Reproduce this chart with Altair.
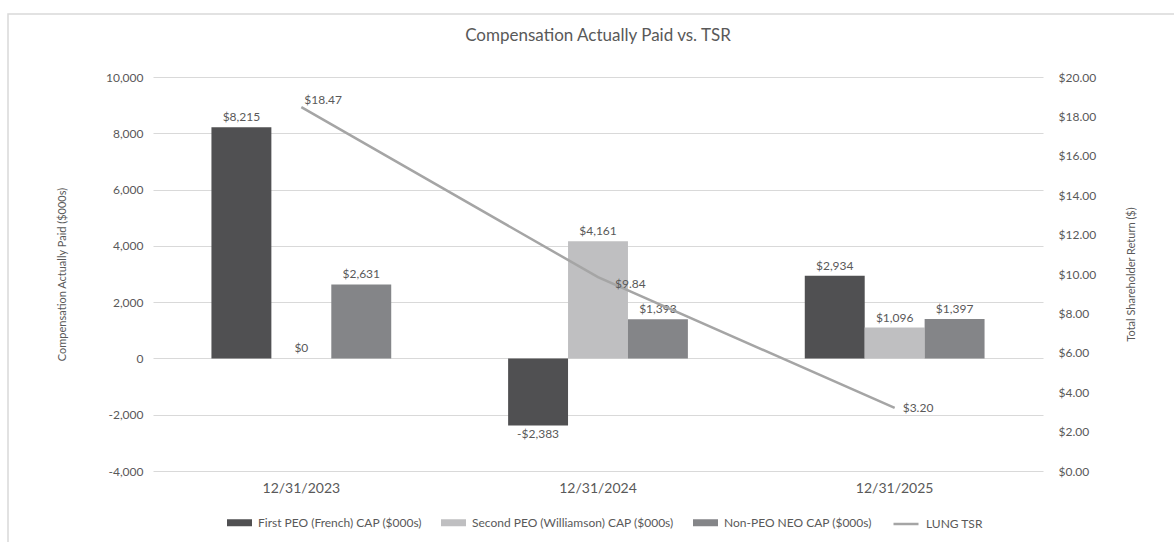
import altair as alt
import pandas as pd

# ---------------- data ----------------
dates = ["12/31/2023", "12/31/2024", "12/31/2025"]
series_names = [
    "First PEO (French) CAP ($000s)",
    "Second PEO (Williamson) CAP ($000s)",
    "Non-PEO NEO CAP ($000s)",
]
first_peo = [8215, -2383, 2934]
second_peo = [0, 4161, 1096]
non_peo = [2631, 1393, 1397]
tsr_name = "LUNG TSR"
tsr = [18.47, 9.84, 3.20]
left_ticks = [-4000, -2000, 0, 2000, 4000, 6000, 8000, 10000]
right_ticks = [0, 2, 4, 6, 8, 10, 12, 14, 16, 18, 20]

# ---------------- styles ----------------
FONT = "Lato"
TXT = "#595959"
GRID = "#D9D9D9"
bar_colors = ["#505052", "#BFBFC1", "#848588"]
line_color = "#A5A5A5"

rows = []
for i, d in enumerate(dates):
    for s, vals in zip(series_names, [first_peo, second_peo, non_peo]):
        rows.append({"date": d, "series": s, "value": vals[i]})
bars_df = pd.DataFrame(rows)
line_df = pd.DataFrame({"date": dates, "series": [tsr_name] * len(dates), "tsr": tsr})

x_enc = alt.X(
    "date:N",
    sort=dates,
    scale=alt.Scale(paddingInner=0.394, paddingOuter=0.197),
    axis=alt.Axis(
        title=None, labelAngle=0, domain=False, ticks=False, labelFontSize=14,
        labelColor=TXT, labelFont=FONT, labelPadding=10, grid=False,
    ),
)
xoff_enc = alt.XOffset("series:N", sort=series_names,
                       scale=alt.Scale(paddingInner=0, paddingOuter=0))

left_axis = alt.Axis(
    values=left_ticks,
    labelExpr="(datum.value < 0 ? '-' : '') + format(abs(datum.value), ',.0f')",
    title="Compensation Actually Paid ($000s)",
    titleFont=FONT, titleFontSize=11, titleFontWeight="normal", titleColor=TXT,
    titleAngle=-90, titleX=-91, titleY=197, titleAlign="center", titleBaseline="middle",
    labelFont=FONT, labelFontSize=12, labelColor=TXT, labelPadding=10,
    labelOverlap=False,
    grid=True, gridColor=GRID, gridWidth=1, domain=False, ticks=False,
)
left_scale = alt.Scale(domain=[-4000, 10000], nice=False)

right_axis = alt.Axis(
    orient="right", values=right_ticks, format="$.2f",
    title="Total Shareholder Return ($)",
    titleFont=FONT, titleFontSize=11, titleFontWeight="normal", titleColor=TXT,
    titleAngle=-90, titleX=88, titleY=197, titleAlign="center", titleBaseline="middle",
    labelFont=FONT, labelFontSize=12, labelColor=TXT, labelPadding=15,
    labelOverlap=False,
    grid=False, domain=False, ticks=False,
)
right_scale = alt.Scale(domain=[0, 20], nice=False)

frame = alt.Chart(alt.Data(values=[{}])).mark_rect(
    filled=False, stroke=GRID, strokeWidth=1.5
).encode(
    x=alt.value(-145), x2=alt.value(1030), y=alt.value(-63), y2=alt.value(480)
)

bars = alt.Chart(bars_df).mark_bar().encode(
    x=x_enc,
    xOffset=xoff_enc,
    y=alt.Y("value:Q", scale=left_scale, axis=left_axis),
    color=alt.Color(
        "series:N",
        sort=series_names,
        scale=alt.Scale(domain=series_names, range=bar_colors),
        legend=alt.Legend(
            title=None, orient="none", legendX=74, legendY=433, direction="horizontal",
            symbolType="M-1,-0.28L1,-0.28L1,0.28L-1,0.28Z", symbolSize=625,
            symbolStrokeWidth=0, labelFont=FONT, labelFontSize=12, labelColor=TXT,
            columnPadding=19, labelOffset=6, labelLimit=400,
        ),
    ),
)

bar_label = "(datum.value < 0 ? '-' : '') + '$' + format(abs(datum.value), ',.0f')"

pos_text = alt.Chart(bars_df).transform_filter("datum.value >= 0").transform_calculate(
    label=bar_label
).mark_text(baseline="bottom", dy=-3, font=FONT, fontSize=12, color=TXT).encode(
    x=x_enc, xOffset=xoff_enc,
    y=alt.Y("value:Q", scale=left_scale, axis=left_axis), text="label:N",
)
neg_text = alt.Chart(bars_df).transform_filter("datum.value < 0").transform_calculate(
    label=bar_label
).mark_text(baseline="top", dy=4, font=FONT, fontSize=12, color=TXT).encode(
    x=x_enc, xOffset=xoff_enc,
    y=alt.Y("value:Q", scale=left_scale, axis=left_axis), text="label:N",
)

left = alt.layer(bars, pos_text, neg_text)

line = alt.Chart(line_df).mark_line(strokeWidth=2.5).encode(
    x=x_enc,
    y=alt.Y("tsr:Q", scale=right_scale, axis=right_axis),
    stroke=alt.Stroke(
        "series:N",
        scale=alt.Scale(domain=[tsr_name], range=[line_color]),
        legend=alt.Legend(
            title=None, orient="none", legendX=739, legendY=433, direction="horizontal",
            symbolType="stroke", symbolSize=625, symbolStrokeWidth=2.5,
            labelFont=FONT, labelFontSize=12, labelColor=TXT, labelOffset=6,
        ),
    ),
)


def tsr_text(i, dx, dy):
    return alt.Chart(line_df).transform_filter(
        alt.datum.date == dates[i]
    ).transform_calculate(
        label="'$' + format(datum.tsr, '.2f')"
    ).mark_text(
        align="left", baseline="middle", dx=dx, dy=dy, font=FONT, fontSize=12, color=TXT
    ).encode(
        x=x_enc, y=alt.Y("tsr:Q", scale=right_scale, axis=right_axis), text="label:N"
    )


right = alt.layer(line, tsr_text(0, 3, -7), tsr_text(1, 17, 7), tsr_text(2, 8, 0))

chart = alt.layer(frame, left, right).resolve_scale(y="independent").properties(
    width=890,
    height=394,
    padding={"left": 153, "top": 77, "right": 131, "bottom": 71},
    autosize=alt.AutoSizeParams(type="none"),
    title=alt.Title(
        "Compensation Actually Paid vs. TSR", font=FONT, fontSize=17,
        fontWeight="normal", color=TXT, anchor="middle", frame="group",
        baseline="middle", offset=-40,
    ),
).configure_view(stroke="transparent")

chart.save("out.html", embed_options={"renderer": "svg", "actions": False})
